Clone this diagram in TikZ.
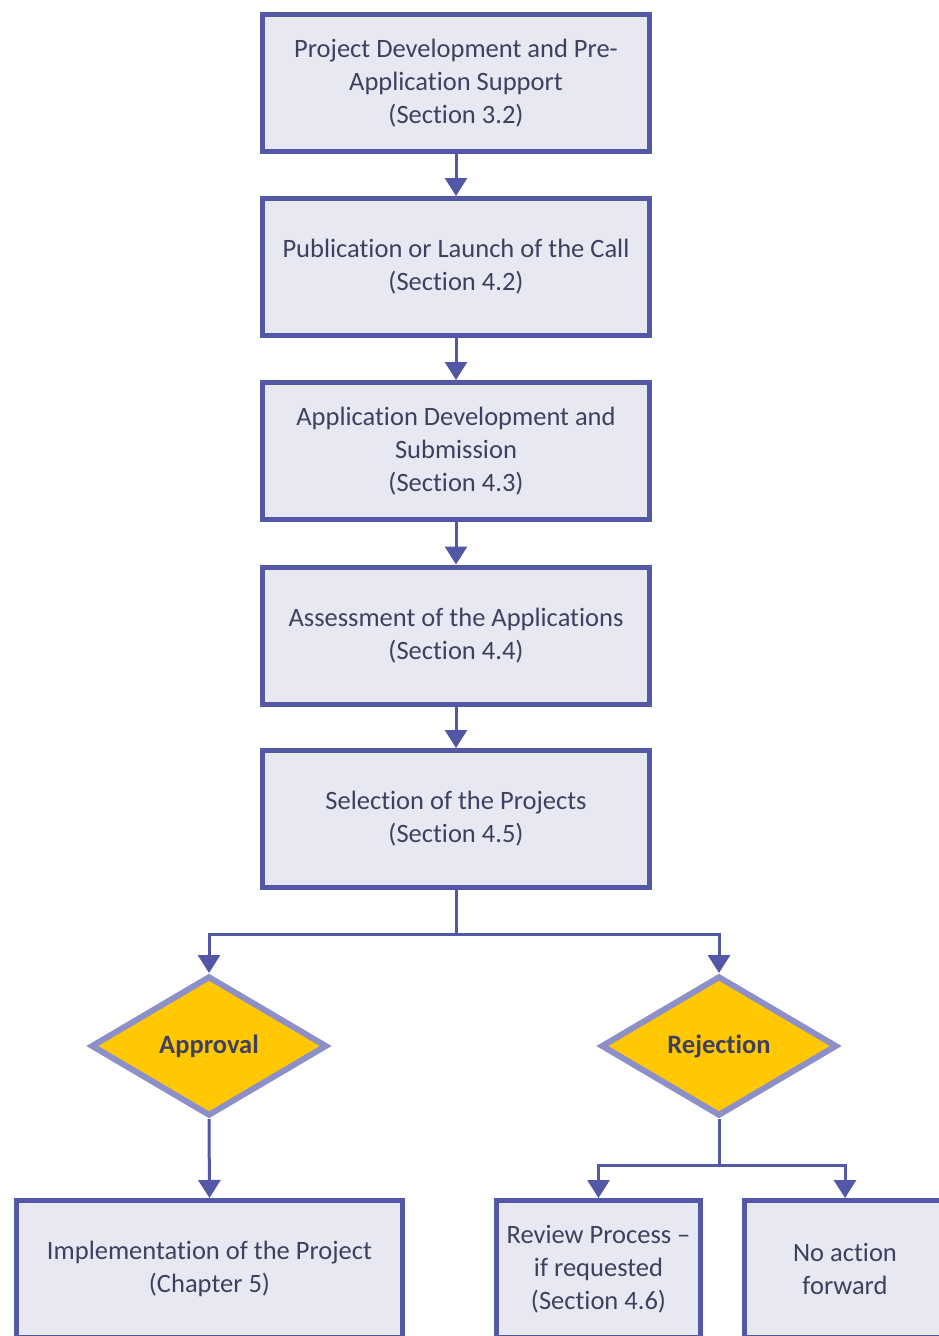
\documentclass[tikz,border=0pt]{standalone}
\usepackage{fontspec}
\setmainfont{Carlito}[Ligatures=NoCommon]
\usetikzlibrary{shapes.geometric,arrows.meta}
\definecolor{boxfill}{HTML}{E8E8F3}
\definecolor{boxline}{HTML}{5257A6}
\definecolor{txt}{HTML}{3E405E}
\definecolor{gold}{HTML}{FFC800}
\definecolor{dmline}{HTML}{8D90C8}
\begin{document}
\begin{tikzpicture}[x=1pt,y=-1pt,
  stepbox/.style={draw=boxline, fill=boxfill, line width=5pt, minimum width=387pt,
    minimum height=137pt, inner sep=0pt, align=center, text=txt,
    font=\fontsize{26.5}{33}\selectfont},
  decision/.style={diamond, draw=dmline, fill=gold, line width=6pt, minimum width=236pt,
    minimum height=140pt, aspect=1.68, inner sep=0pt, text=txt,
    font=\fontsize{26.5}{30}\selectfont\bfseries},
  conn/.style={draw=boxline, line width=3pt, -{Triangle[width=22pt,length=18pt]}},
  link/.style={draw=boxline, line width=3pt}]
\fill[white] (0,0) rectangle (939,1336);
\clip (0,0) rectangle (939,1336);

% main sequence of steps
\node[stepbox] (b1) at (456,83) {Project Development and Pre-\\Application Support\\(Section 3.2)};
\node[stepbox] (b2) at (456,267) {Publication or Launch of the Call\\(Section 4.2)};
\node[stepbox] (b3) at (456,451) {Application Development and\\Submission\\(Section 4.3)};
\node[stepbox] (b4) at (456,635.5) {Assessment of the Applications\\(Section 4.4)};
\node[stepbox] (b5) at (456,819) {Selection of the Projects\\(Section 4.5)};

% decisions
\node[decision] (d1) at (209,1046) {Approval};
\node[decision] (d2) at (719,1046) {Rejection};

% outcomes
\node[stepbox, minimum width=386pt] (b6) at (209.5,1269) {Implementation of the Project\\(Chapter 5)};
\node[stepbox, minimum width=204pt] (b7) at (598.5,1269) {Review Process --\\if requested\\(Section 4.6)};
\node[stepbox, minimum width=201pt] (b8) at (845,1269) {No action\\forward};

% connectors
\draw[conn] (b1.south) -- (b2.north);
\draw[conn] (b2.south) -- (b3.north);
\draw[conn] (b3.south) -- (b4.north);
\draw[conn] (b4.south) -- (b5.north);

\coordinate (split) at (456,934);
\draw[link] (b5.south) -- (split);
\draw[conn] (split) -| (d1.north);
\draw[conn] (split) -| (d2.north);

\draw[conn] (d1.south) -- (b6.north);

\coordinate (split2) at (719,1165);
\draw[link] (d2.south) -- (split2);
\draw[conn] (split2) -| (b7.north);
\draw[conn] (split2) -| (b8.north);
\end{tikzpicture}
\end{document}
